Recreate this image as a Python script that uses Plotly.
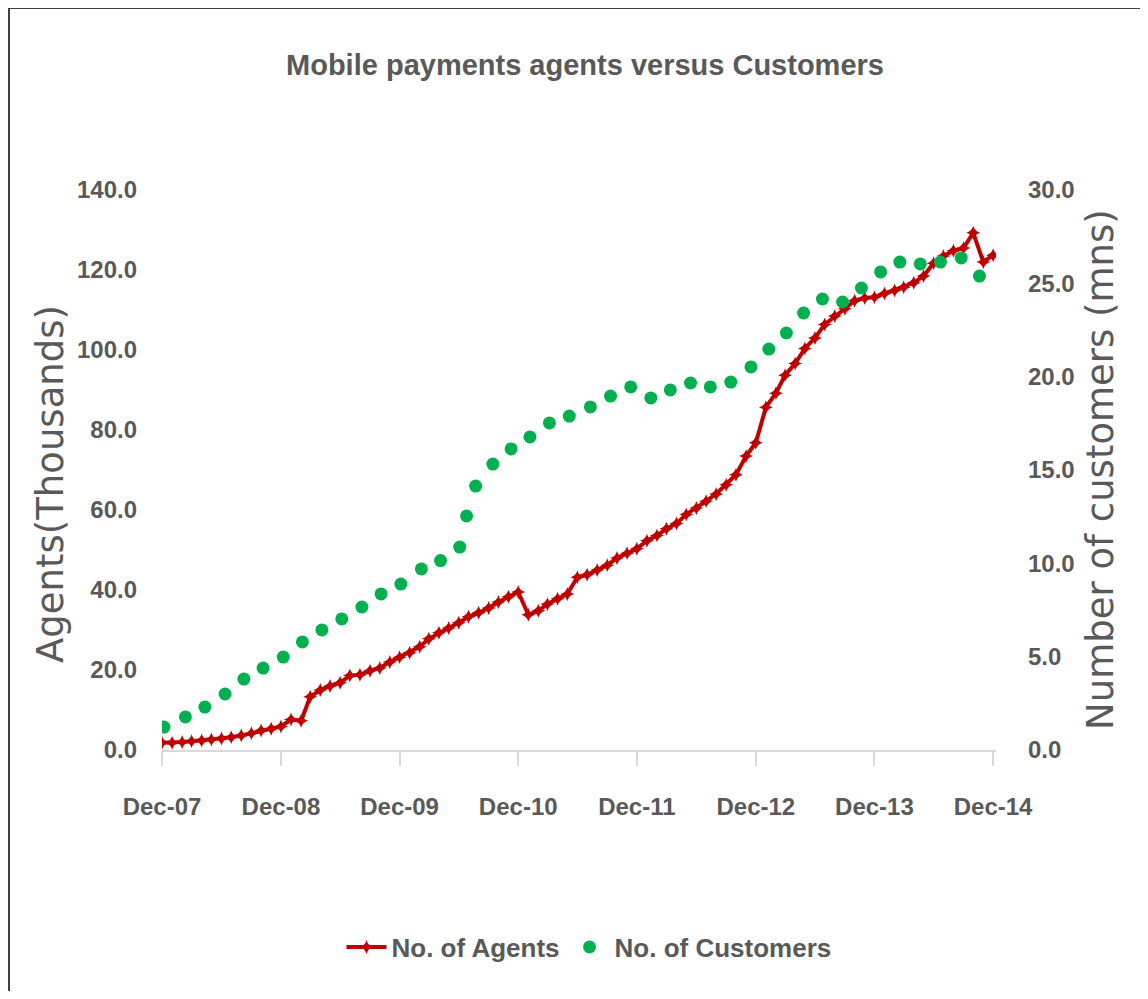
import pandas as pd
import plotly.graph_objects as go

# Agents (thousands), monthly Dec-07 .. Dec-14
agent_dates = pd.date_range("2007-12-01", "2014-12-01", freq="MS")
agents = [
    1.8, 1.8, 2.0, 2.2, 2.4, 2.6, 2.9, 3.2, 3.6, 4.2, 4.9, 5.3,
    5.9, 7.6, 7.3, 13.3, 15.0, 16.0, 16.8, 18.6, 18.8, 19.8, 20.5, 22.0,
    23.2, 24.3, 25.8, 27.8, 29.3, 30.5, 31.8, 33.3, 34.3, 35.5, 37.0, 38.3,
    39.5, 33.8, 34.8, 36.5, 37.8, 39.0, 43.2, 43.8, 45.0, 46.2, 48.0, 49.2,
    50.3, 52.3, 53.6, 55.3, 56.6, 58.9, 60.5, 62.2, 64.0, 66.3, 68.8, 73.5,
    76.8, 85.7, 89.2, 93.7, 96.6, 100.4, 103.0, 106.4, 108.5, 110.3, 112.3, 113.0,
    113.2, 114.1, 114.9, 115.7, 116.8, 118.5, 121.7, 123.5, 124.8, 125.5, 129.3, 122.0,
    123.7,
]

# Customers (millions)
customer_dates = [
    "2007-12-07", "2008-02-11", "2008-04-11", "2008-06-12", "2008-08-09",
    "2008-10-07", "2008-12-08", "2009-02-05", "2009-04-06", "2009-06-06",
    "2009-08-07", "2009-10-05", "2009-12-05", "2010-02-06", "2010-04-06",
    "2010-06-04", "2010-06-25", "2010-07-23", "2010-09-14", "2010-11-09",
    "2011-01-06", "2011-03-07", "2011-05-07", "2011-07-11", "2011-09-11",
    "2011-11-12", "2012-01-13", "2012-03-13", "2012-05-14", "2012-07-14",
    "2012-09-15", "2012-11-16", "2013-01-10", "2013-03-05", "2013-04-27",
    "2013-06-24", "2013-08-25", "2013-10-22", "2013-12-20", "2014-02-17",
    "2014-04-21", "2014-06-22", "2014-08-25", "2014-10-20",
]
customers = [
    1.23, 1.77, 2.30, 3.00, 3.80, 4.39, 4.98, 5.79, 6.43, 7.02,
    7.66, 8.36, 8.89, 9.70, 10.15, 10.87, 12.54, 14.14, 15.32, 16.13,
    16.77, 17.52, 17.89, 18.38, 18.96, 19.45, 18.86, 19.29, 19.66, 19.45,
    19.71, 20.52, 21.48, 22.34, 23.41, 24.16, 24.00, 24.75, 25.61, 26.14,
    26.04, 26.14, 26.36, 25.39,
]

FONT = "Liberation Sans, Arial, sans-serif"
GREY = "#595959"

# page has an 8px body margin, so the figure sits at (8, 8)
OFF = 8
W, H = 1132, 983
L, R, T, B = 154, 144, 182, 241
PW, PH = W - L - R, H - T - B


def px(x):
    """page x pixel -> paper fraction"""
    return (x - OFF - L) / PW


def py(y):
    """page y pixel -> paper fraction"""
    return (H - B - (y - OFF)) / PH


fig = go.Figure()
fig.add_trace(go.Scatter(
    x=agent_dates, y=agents,
    mode="lines+markers",
    name="No. of Agents",
    line=dict(color="#C00000", width=4),
    marker=dict(symbol="star-diamond", size=10, color="#C00000"),
))
fig.add_trace(go.Scatter(
    x=customer_dates, y=customers,
    mode="markers",
    name="No. of Customers",
    yaxis="y2",
    marker=dict(symbol="circle", size=13, color="#00B050"),
))

tick_font = dict(family=FONT, size=24, color=GREY, weight="bold")

fig.update_layout(
    width=W, height=H,
    margin=dict(l=L, r=R, t=T, b=B),
    paper_bgcolor="white",
    plot_bgcolor="white",
    font=dict(family=FONT, color=GREY, size=24),
    title=dict(
        text="Mobile payments agents versus Customers",
        x=px(585), xref="paper", xanchor="center",
        y=1 - (65 - OFF) / H, yanchor="middle",
        font=dict(family=FONT, size=29, color=GREY, weight="bold"),
    ),
    xaxis=dict(
        type="date",
        range=["2007-12-01", "2014-12-10"],
        tick0="2007-12-01", dtick="M12", tickformat="%b-%y",
        showgrid=False, zeroline=False,
        showline=True, linecolor="#D9D9D9", linewidth=2,
        ticks="outside", ticklen=14, tickwidth=2, tickcolor="#D9D9D9",
        tickfont=tick_font,
        ticklabelstandoff=20,
    ),
    yaxis=dict(
        range=[0, 140], dtick=20, tickformat=".1f",
        showgrid=False, zeroline=False, showline=False,
        tickfont=tick_font,
        ticklabelstandoff=24,
    ),
    yaxis2=dict(
        overlaying="y", side="right",
        range=[0, 30], dtick=5, tickformat=".1f",
        showgrid=False, zeroline=False, showline=False,
        tickfont=tick_font,
        ticklabelstandoff=31,
    ),
    legend=dict(
        orientation="h",
        x=px(589), xanchor="center",
        y=py(947), yanchor="middle",
        font=dict(family=FONT, size=26, color=GREY, weight="bold"),
        itemwidth=40,
    ),
    showlegend=True,
)

fig.add_annotation(
    text="Agents(Thousands)", textangle=-90,
    x=px(50), y=py(484), xref="paper", yref="paper",
    xanchor="center", yanchor="middle",
    showarrow=False,
    font=dict(family="DejaVu Sans", size=37, color=GREY),
)
fig.add_annotation(
    text="Number of customers (mns)", textangle=-90,
    x=px(1100), y=py(470), xref="paper", yref="paper",
    xanchor="center", yanchor="middle",
    showarrow=False,
    font=dict(family="DejaVu Sans", size=37, color=GREY),
)

# chart frame
fig.add_shape(
    type="rect", xref="paper", yref="paper",
    x0=px(9), y0=py(1010), x1=px(1170), y1=py(8),
    line=dict(color="#404040", width=2), layer="below",
)

fig.write_html("out.html")
